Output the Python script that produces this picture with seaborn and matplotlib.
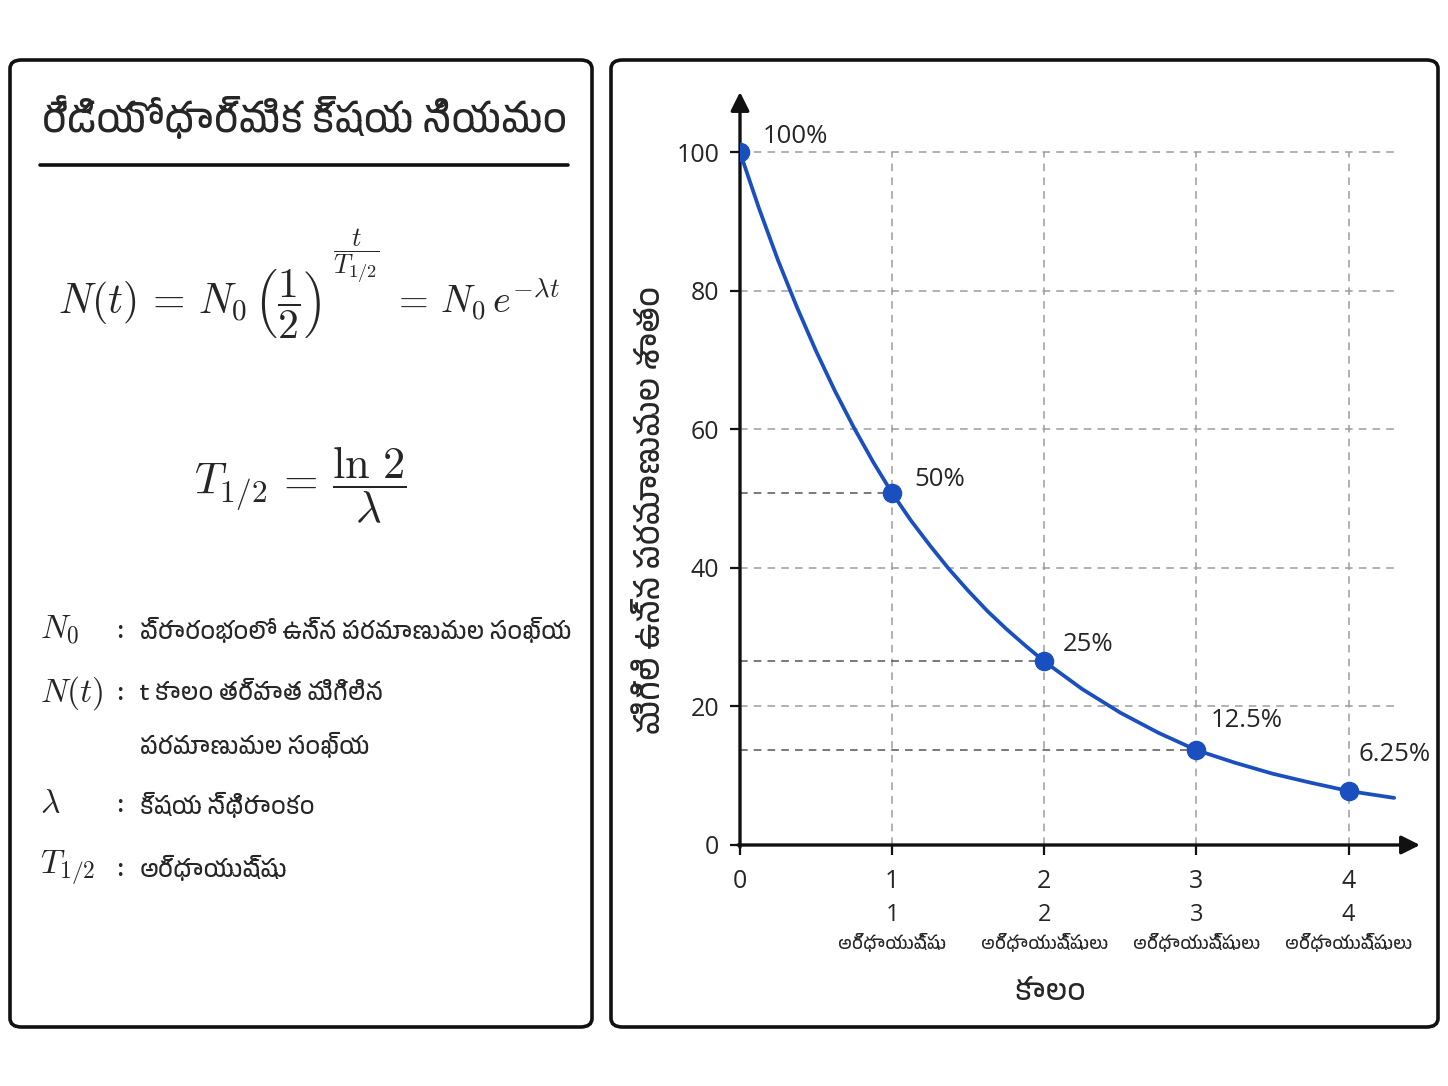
import numpy as np
import matplotlib
matplotlib.use('Agg')
import matplotlib.pyplot as plt
import pandas as pd
import seaborn as sns
from matplotlib import font_manager
from matplotlib.patches import FancyBboxPatch
from matplotlib.lines import Line2D

# data
half_lives = [0, 1, 2, 3, 4]
point_pct = [100, 50.8, 26.5, 13.7, 7.8]
point_labels = ['100%', '50%', '25%', '12.5%', '6.25%']
curve_t = [0, 0.125, 0.25, 0.375, 0.5, 0.625, 0.75, 0.875, 1, 1.125, 1.25, 1.375, 1.5, 1.625,
           1.75, 1.875, 2, 2.25, 2.5, 2.75, 3, 3.25, 3.5, 3.75, 4, 4.3]
curve_pct = [100, 91.9, 84.4, 77.6, 71.3, 65.5, 60.2, 55.3, 50.8, 46.8, 43.2, 39.8, 36.7, 33.8,
             31.2, 28.8, 26.5, 22.5, 19.1, 16.2, 13.7, 11.9, 10.3, 9.0, 7.8, 6.8]
y_ticks = [0, 20, 40, 60, 80, 100]
x_tick_labels = ['0', '1', '2', '3', '4']
halflife_nums = ['', '1', '2', '3', '4']
halflife_words = ['', 'అర్ధాయుష్షు', 'అర్ధాయుష్షులు', 'అర్ధాయుష్షులు', 'అర్ధాయుష్షులు']

title = 'రేడియోధార్మిక క్షయ నియమం'
y_label = 'మిగిలి ఉన్న పరమాణువుల శాతం'
x_label = 'కాలం'
legend_syms = [r'$N_0$', r'$N(t)$', '', r'$\lambda$', r'$T_{1/2}$']
legend_text = ['ప్రారంభంలో ఉన్న పరమాణువుల సంఖ్య', 't కాలం తర్వాత మిగిలిన',
               'పరమాణువుల సంఖ్య', 'క్షయ స్థిరాంకం', 'అర్ధాయుష్షు']

sns.set_theme(style='white')
telugu = [f.name for f in font_manager.fontManager.ttflist if 'Telugu' in f.name]
fams = telugu[:1] + ['Noto Sans', 'DejaVu Sans']
plt.rcParams['font.family'] = fams
plt.rcParams['mathtext.fontset'] = 'cm'
num_fams = ['Open Sans'] + telugu[:1] + ['DejaVu Sans']

blue = '#1a4fc0'
grid_c = '#9c9c9c'

fig = plt.figure(figsize=(14.48, 10.86), dpi=100)
fig.patch.set_facecolor('white')

# panel frames
for x0, x1 in [(10, 592), (611, 1438)]:
    box = FancyBboxPatch((x0 / 1448, 1 - 1027 / 1086), (x1 - x0) / 1448, 967 / 1086,
                         boxstyle='round,pad=0,rounding_size=0.008', transform=fig.transFigure,
                         fill=False, lw=2.6, ec='#111111')
    fig.add_artist(box)

# ---- left panel
fig.text(42 / 1448, 1 - 117 / 1086, title, fontsize=28, fontweight='bold', ha='left', va='center')
fig.add_artist(Line2D([40 / 1448, 568 / 1448], [1 - 165 / 1086] * 2, transform=fig.transFigure,
                      color='#111111', lw=2.6))
# decay law, split so the exponent sits high like the reference
fig.text(322 / 1448, 1 - 314 / 1086, r'$N(t)\,=\,N_0\,\left(\dfrac{1}{2}\right)$',
         fontsize=30, ha='right', va='baseline')
fig.text(356 / 1448, 1 - 256 / 1086, r'$\dfrac{t}{T_{1/2}}$', fontsize=19, ha='center', va='center')
fig.text(392 / 1448, 1 - 314 / 1086, r'$=\,N_0\,e^{-\lambda t}$',
         fontsize=27.5, ha='left', va='baseline')
fig.text(300 / 1448, 1 - 485 / 1086, r'$T_{1/2}\,=\,\dfrac{\ln\,2}{\lambda}$',
         fontsize=32, ha='center', va='center')

rows_y = [630, 693, 745, 805, 868]
for sym, txt, yy in zip(legend_syms, legend_text, rows_y):
    yf = 1 - yy / 1086
    if sym:
        fig.text(40 / 1448, yf, sym, fontsize=24, ha='left', va='center')
        fig.text(120 / 1448, yf, ':', fontsize=20, ha='center', va='center', family='DejaVu Serif')
    fig.text(140 / 1448, yf, txt, fontsize=17, ha='left', va='center')

# ---- right panel: chart
ax = fig.add_axes([740 / 1448, 1 - 845 / 1086, 680 / 1448, 753 / 1086])
ax.set_xlim(0, 4.47)
ax.set_ylim(0, 108.7)
for s in ax.spines.values():
    s.set_visible(False)

ax.hlines(y_ticks[1:], 0, 4.3, colors=grid_c, linestyles=(0, (5, 4)), lw=1.1, zorder=1)
ax.vlines(half_lives[1:], 0, 100, colors=grid_c, linestyles=(0, (5, 4)), lw=1.1, zorder=1)
ax.hlines(point_pct[1:4], 0, half_lives[1:4], colors='#555555', linestyles=(0, (5, 4)), lw=1.1, zorder=1)

sns.lineplot(x=curve_t, y=curve_pct, ax=ax, color=blue, lw=2.7, zorder=3)
sns.scatterplot(x=half_lives, y=point_pct, ax=ax, color=blue, s=170, edgecolor=blue, zorder=4)

offsets = [(16, 11), (16, 10), (13, 12), (10, 21), (7, 26)]
for xv, yv, lab, off in zip(half_lives, point_pct, point_labels, offsets):
    ax.annotate(lab, (xv, yv), xytext=off, textcoords='offset points', fontsize=18.5,
                ha='left', va='center', family='Open Sans')

ax.annotate('', xy=(1.0, 0), xytext=(-0.003, 0), xycoords='axes fraction',
            arrowprops=dict(arrowstyle='-|>', lw=2.4, color='#111111', mutation_scale=28,
                            shrinkA=0, shrinkB=0))
ax.annotate('', xy=(0, 1.0), xytext=(0, -0.003), xycoords='axes fraction',
            arrowprops=dict(arrowstyle='-|>', lw=2.4, color='#111111', mutation_scale=28,
                            shrinkA=0, shrinkB=0))

ax.set_yticks(y_ticks)
ax.set_yticklabels([str(v) for v in y_ticks], family='Open Sans', fontsize=18)
ax.set_xticks(half_lives)
ax.set_xticklabels(x_tick_labels, family='Open Sans', fontsize=18)
ax.tick_params(axis='both', which='both', length=7, width=1.6, color='#111111', direction='out',
               left=True, bottom=True)
ax.tick_params(axis='x', pad=10)
ax.tick_params(axis='y', pad=8)

xax = ax.get_xaxis_transform()
for xv, num, word in zip(half_lives, halflife_nums, halflife_words):
    ax.text(xv, -(915 - 845) / 753, num, transform=xax, ha='center', va='center',
            fontsize=17, family=num_fams)
    ax.text(xv, -(943 - 845) / 753, word, transform=xax, ha='center', va='center',
            fontsize=12.5)

fig.text(1050 / 1448, 1 - 993 / 1086, x_label, fontsize=21, fontweight='bold', ha='center', va='center')
fig.text(650 / 1448, 1 - 510 / 1086, y_label, fontsize=23, fontweight='bold', ha='center', va='center',
         rotation=90)

fig.savefig('out.png', dpi=100, facecolor='white')
